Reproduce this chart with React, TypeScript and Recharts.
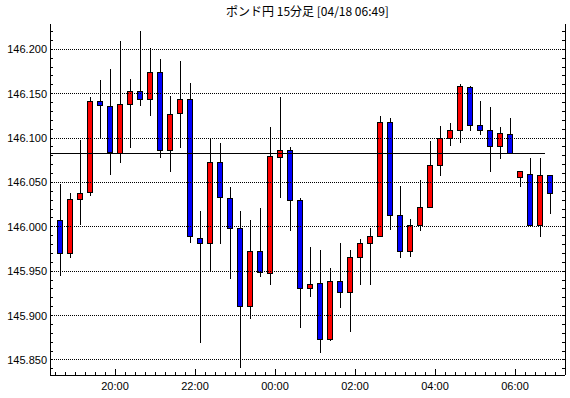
import { ComposedChart, Bar, XAxis, YAxis, ReferenceLine } from "recharts";

// 15分足 ローソク足 (左から 18:30 の足, 最後が 06:45 の足)
const opens = [
  146.007, 145.97, 146.031, 146.039, 146.141, 146.136, 146.083, 146.138, 146.153, 146.143,
  146.174, 146.086, 146.128, 146.144, 145.987, 145.981, 146.072, 146.032, 145.998, 145.91,
  145.972, 145.948, 146.078, 146.086, 146.03, 145.93, 145.936, 145.873, 145.938, 145.926,
  145.966, 145.981, 145.989, 146.117, 146.013, 145.972, 146.001, 146.022, 146.069, 146.099,
  146.108, 146.157, 146.114, 146.108, 146.091, 146.104, 146.056, 146.059, 146.001, 146.058,
];
const closes = [
  145.97, 146.031, 146.038, 146.141, 146.137, 146.084, 146.138, 146.153, 146.143, 146.174,
  146.086, 146.127, 146.144, 145.989, 145.981, 146.072, 146.033, 145.998, 145.91, 145.972,
  145.949, 146.079, 146.086, 146.03, 145.93, 145.935, 145.873, 145.938, 145.926, 145.966,
  145.981, 145.989, 146.117, 146.013, 145.972, 146.001, 146.022, 146.069, 146.099, 146.108,
  146.158, 146.114, 146.108, 146.091, 146.105, 146.083, 146.062, 146.001, 146.058, 146.037,
];
const highs = [
  146.048, 146.038, 146.098, 146.146, 146.165, 146.178, 146.209, 146.167, 146.221, 146.201,
  146.189, 146.147, 146.187, 146.162, 146.018, 146.1, 146.095, 146.045, 146.018, 146.008,
  146.021, 146.112, 146.146, 146.09, 146.032, 145.977, 145.974, 145.954, 145.982, 145.974,
  145.986, 145.999, 146.125, 146.123, 146.046, 146.009, 146.053, 146.097, 146.114, 146.117,
  146.161, 146.159, 146.142, 146.135, 146.112, 146.123, 146.062, 146.078, 146.077, 146.058,
];
const lows = [
  145.945, 145.965, 146.002, 146.035, 146.099, 146.058, 146.072, 146.089, 146.136, 146.125,
  146.077, 146.062, 146.089, 145.982, 145.869, 145.949, 145.981, 145.941, 145.841, 145.896,
  145.943, 145.935, 146.032, 145.995, 145.886, 145.921, 145.858, 145.871, 145.909, 145.881,
  145.934, 145.934, 145.989, 145.997, 145.965, 145.966, 145.995, 146.022, 146.057, 146.091,
  146.095, 146.108, 146.103, 146.062, 146.076, 146.083, 146.045, 146.001, 145.988, 146.014,
];

const prevClose = 146.083;
const prevCloseEnd = 49; // 線は最後の足の手前まで

const hourTicks = [6, 14, 22, 30, 38, 46];
const hourLabels = ["20:00", "22:00", "00:00", "02:00", "04:00", "06:00"];
const priceTicks = [145.85, 145.9, 145.95, 146.0, 146.05, 146.1, 146.15, 146.2];

const yDomain = [145.8331, 146.2285];
const xDomain = [-0.5, 51];

const data = opens.map((o, i) => ({
  t: i + 0.5,
  open: o,
  close: closes[i],
  high: highs[i],
  low: lows[i],
}));

// 補助目盛 (15分ごと / 0.01ごと)
const minorX = Array.from({ length: 51 }, (_, i) => i);
const minorY = Array.from({ length: 39 }, (_, i) => Math.round((145.84 + i * 0.01) * 100) / 100);

const font = "'Liberation Sans', Arial, sans-serif";

function Candle(props: any) {
  const { x, y, width, height, payload } = props;
  const { open, close, high, low } = payload;
  const k = high === low ? 0 : height / (high - low);
  const top = y + (high - Math.max(open, close)) * k;
  const bot = y + (high - Math.min(open, close)) * k;
  const cx = x + width / 2 + 0.5;
  const up = close >= open;
  return (
    <g>
      <line x1={cx} x2={cx} y1={y} y2={y + height} stroke="#000" strokeWidth={1} />
      <rect
        x={x + 0.5}
        y={top}
        width={width - 1}
        height={Math.max(bot - top, 1)}
        fill={up ? "#ff0000" : "#0000ff"}
        stroke="#000"
        strokeWidth={1}
      />
    </g>
  );
}

const isMajorY = (v: number) => priceTicks.some((p) => Math.abs(p - v) < 1e-6);

function LeftTick({ x, y, payload }: any) {
  return (
    <g>
      <line x1={x} x2={x + 3} y1={y} y2={y} stroke="#000" />
      {isMajorY(payload.value) && (
        <text x={x - 3} y={y} dy={4} textAnchor="end" fontSize={11} fontFamily={font} fill="#000">
          {payload.value.toFixed(3)}
        </text>
      )}
    </g>
  );
}

function RightTick({ x, y }: any) {
  return <line x1={x} x2={x - 3} y1={y} y2={y} stroke="#000" />;
}

function BottomTick({ x, y, payload }: any) {
  const idx = hourTicks.indexOf(payload.value);
  return (
    <g>
      <line x1={x} x2={x} y1={y} y2={y - (idx >= 0 ? 6 : 3)} stroke="#000" />
      {idx >= 0 && (
        <text x={x} y={y + 15} textAnchor="middle" fontSize={11} fontFamily={font} fill="#000">
          {hourLabels[idx]}
        </text>
      )}
    </g>
  );
}

function TopTick({ x, y, payload }: any) {
  const major = hourTicks.includes(payload.value);
  return <line x1={x} x2={x} y1={y} y2={y + (major ? 6 : 3)} stroke="#000" />;
}

export default function App() {
  return (
    <div style={{ position: "absolute", left: 0, top: 0, width: 570, height: 398, background: "#fff" }}>
      <style>{`.fx-chart line, .fx-chart rect, .fx-chart path { shape-rendering: crispEdges; }`}</style>
      <div
        style={{
          position: "absolute",
          left: 50,
          top: 3,
          width: 515,
          textAlign: "center",
          fontSize: 12,
          lineHeight: "16px",
          fontFamily: "'Noto Sans CJK JP', sans-serif",
          color: "#000",
        }}
      >
        ポンド円 15分足 [04/18 06:49]
      </div>
      <ComposedChart
        className="fx-chart"
        width={570}
        height={398}
        data={data}
        margin={{ top: 24, right: 0, bottom: 0, left: 0 }}
      >
        <XAxis
          xAxisId="b"
          dataKey="t"
          type="number"
          domain={xDomain}
          ticks={minorX}
          interval={0}
          allowDataOverflow
          height={23}
          tickSize={0}
          tickMargin={0}
          tickLine={false}
          axisLine={{ stroke: "#000" }}
          tick={<BottomTick />}
        />
        <XAxis
          xAxisId="top"
          dataKey="t"
          type="number"
          orientation="top"
          domain={xDomain}
          ticks={minorX}
          interval={0}
          allowDataOverflow
          height={0}
          tickSize={0}
          tickMargin={0}
          tickLine={false}
          axisLine={{ stroke: "#000" }}
          tick={<TopTick />}
        />
        <YAxis
          yAxisId="left"
          type="number"
          domain={yDomain}
          ticks={minorY}
          interval={0}
          allowDataOverflow
          width={50}
          tickSize={0}
          tickMargin={0}
          tickLine={false}
          axisLine={{ stroke: "#000" }}
          tick={<LeftTick />}
        />
        <YAxis
          yAxisId="right"
          orientation="right"
          type="number"
          domain={yDomain}
          ticks={minorY}
          interval={0}
          allowDataOverflow
          width={5}
          tickSize={0}
          tickMargin={0}
          tickLine={false}
          axisLine={{ stroke: "#000" }}
          tick={<RightTick />}
        />
        {priceTicks.map((v) => (
          <ReferenceLine key={v} xAxisId="b" yAxisId="left" y={v} stroke="#000" strokeDasharray="1 1" />
        ))}
        <Bar
          xAxisId="b"
          yAxisId="left"
          dataKey={(d: any) => [d.low, d.high]}
          barSize={6}
          shape={<Candle />}
          isAnimationActive={false}
        />
        <ReferenceLine
          xAxisId="b"
          yAxisId="left"
          segment={[
            { x: xDomain[0], y: prevClose },
            { x: prevCloseEnd, y: prevClose },
          ]}
          stroke="#000"
          strokeWidth={1}
        />
      </ComposedChart>
    </div>
  );
}
